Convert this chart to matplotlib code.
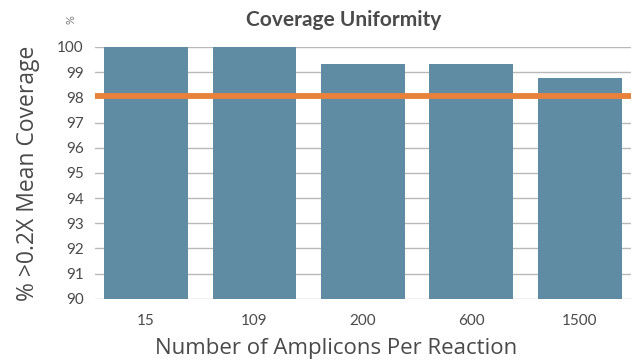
import matplotlib
matplotlib.use("Agg")
import matplotlib.pyplot as plt

categories = ["15", "109", "200", "600", "1500"]
values = [100.0, 100.0, 99.33, 99.33, 98.77]
threshold = 98.07
yticks = list(range(90, 101))

plt.rcParams['font.family'] = ['Lato', 'DejaVu Sans']
txt = '#4a4a4a'

fig = plt.figure(figsize=(6.32, 3.64), dpi=100)
ax = fig.add_axes([0.150, 0.179, 0.848, 0.692])
x = range(len(categories))
ax.bar(x, values, width=0.77, color='#5f8ba3', zorder=2)
ax.axhline(threshold, color='#e8823a', lw=4.2, zorder=3)
ax.set_xlim(-0.47, len(categories) - 0.53)
ax.set_ylim(90, 100)
ax.set_yticks(yticks)
ax.set_xticks(list(x))
ax.set_xticklabels(categories)
ax.grid(axis='y', color='#b8b8b8', lw=1.0, zorder=0)
for s in ax.spines.values():
    s.set_visible(False)
ax.tick_params(length=0, labelsize=11, colors=txt, pad=8)
ax.tick_params(axis='x', pad=11)
ax.set_ylabel("% >0.2X Mean Coverage", fontsize=16.5, color=txt, labelpad=12,
              family=['Open Sans', 'DejaVu Sans'])
ax.set_xlabel("Number of Amplicons Per Reaction", fontsize=16, color=txt, labelpad=7,
              family=['Open Sans', 'DejaVu Sans'])
ax.xaxis.label.set_x(0.45)
fig.text(0.543, 0.945, "Coverage Uniformity", ha='center', va='center',
         fontsize=15, fontweight='bold', color=txt)
fig.text(0.112, 0.945, "%", ha='center', va='center', fontsize=8, color='#777777', rotation=90)
fig.savefig("out.png", dpi=100)
